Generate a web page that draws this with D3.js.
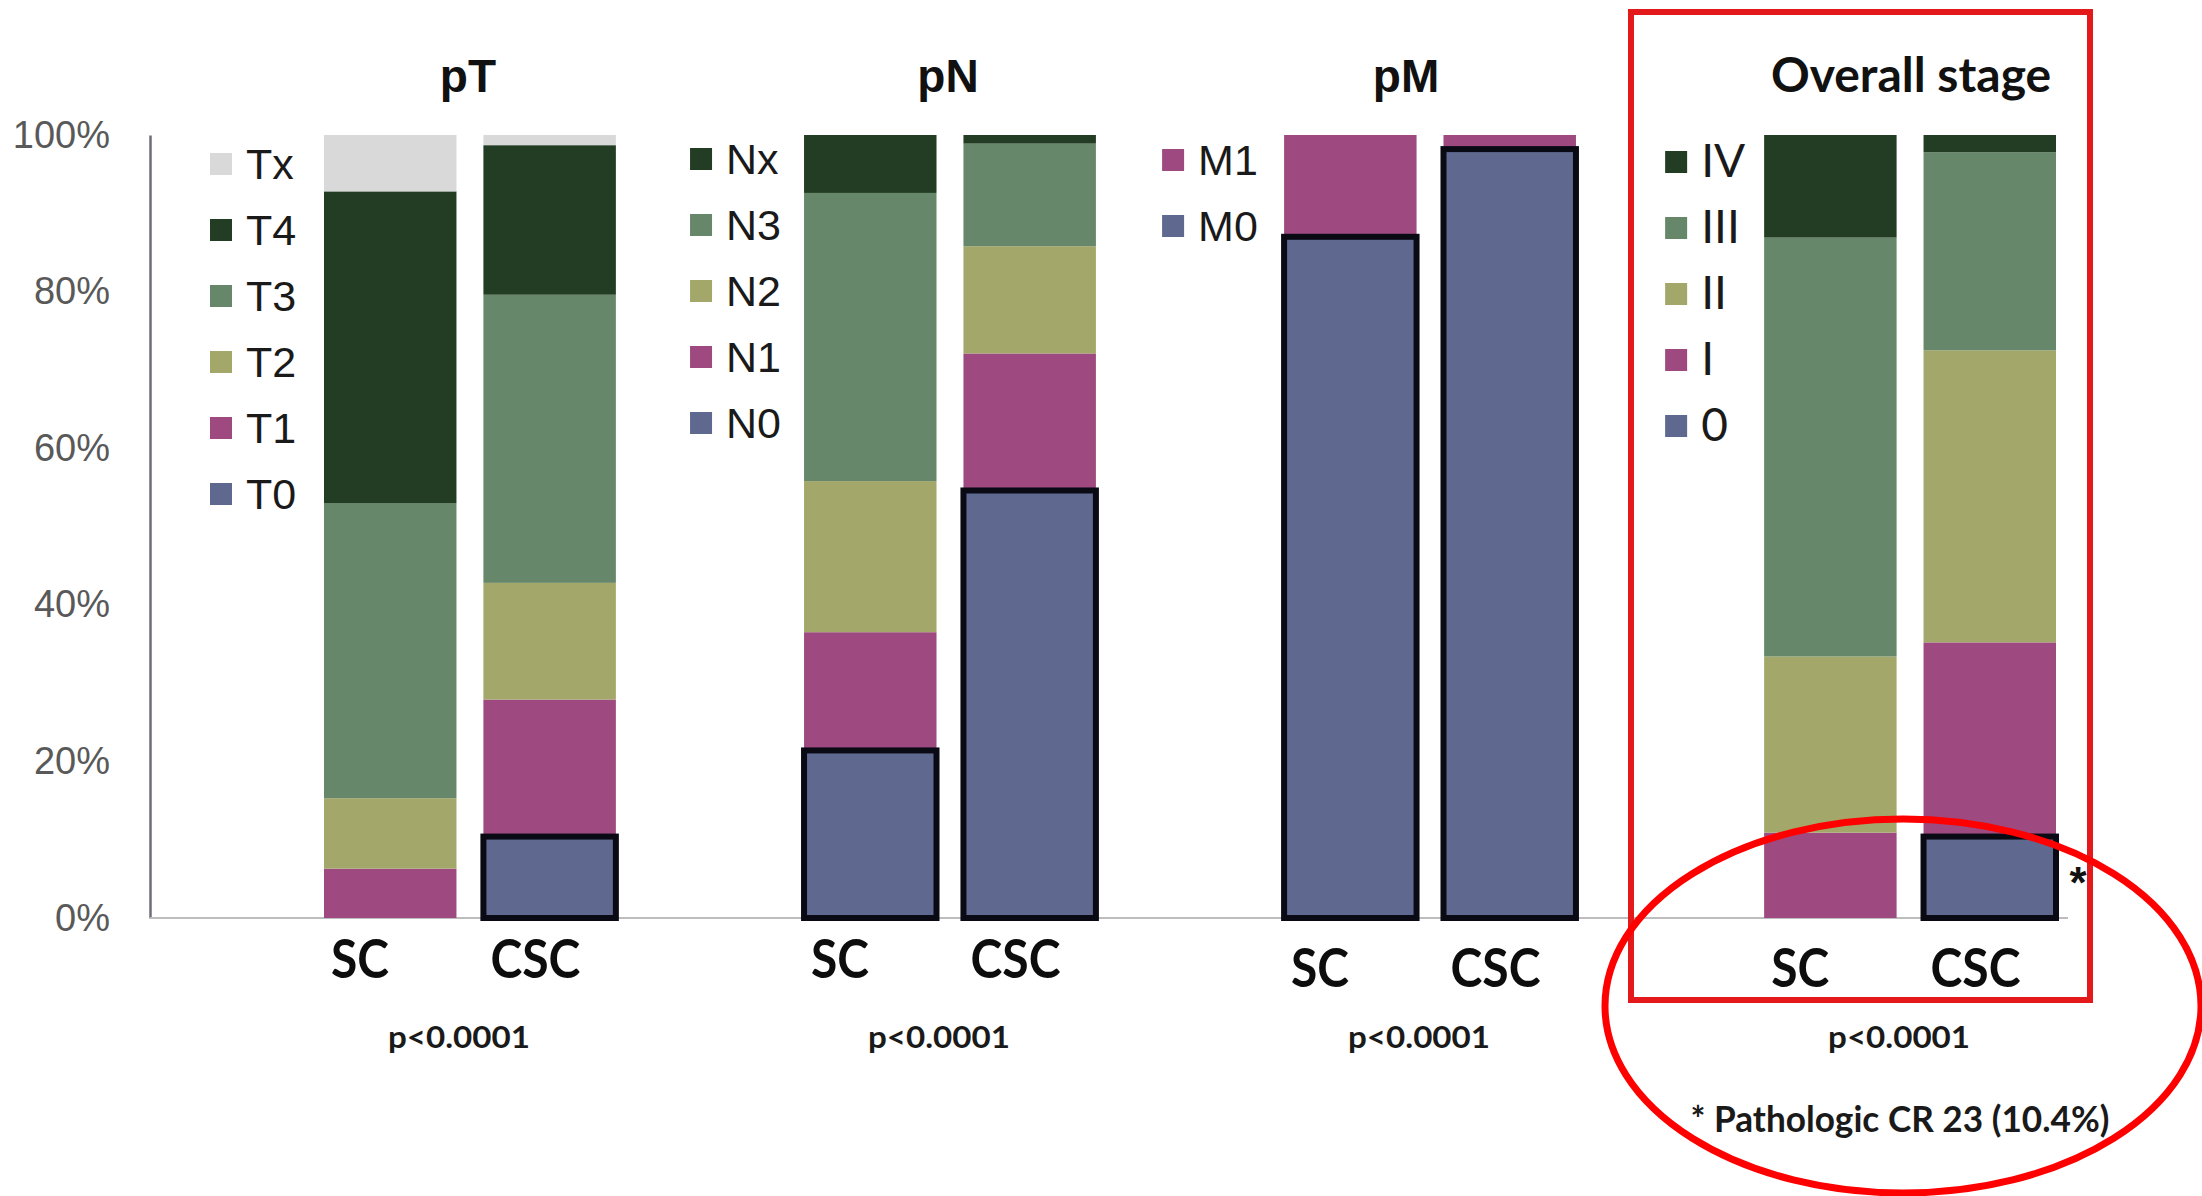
<!DOCTYPE html>
<html>
<head>
<meta charset="utf-8">
<script src="https://cdn.jsdelivr.net/npm/d3@7"></script>
<style>
  html, body { margin: 0; padding: 0; background: #ffffff; }
  svg { display: block; }
</style>
</head>
<body>
<svg id="chart" width="2202" height="1196"></svg>
<script>
// ---------------- DATA ----------------
const groups = ["pT", "pN", "pM", "Overall stage"];
const arms = ["SC", "CSC"];

const pTCategories = ["T0", "T1", "T2", "T3", "T4", "Tx"];
const pTSC  = [0, 6.3, 9.0, 37.7, 39.8, 7.2];
const pTCSC = [10.4, 17.5, 14.9, 36.8, 19.1, 1.3];

const pNCategories = ["N0", "N1", "N2", "N3", "Nx"];
const pNSC  = [21.4, 15.1, 19.3, 36.8, 7.4];
const pNCSC = [54.6, 17.5, 13.7, 13.1, 1.1];

const pMCategories = ["M0", "M1"];
const pMSC  = [87.0, 13.0];
const pMCSC = [98.2, 1.8];

const stageCategories = ["0", "I", "II", "III", "IV"];
const stageSC  = [0, 10.9, 22.5, 53.5, 13.1];
const stageCSC = [10.4, 24.8, 37.3, 25.3, 2.2];

const yTicks = [0, 20, 40, 60, 80, 100];
const pValues = ["p<0.0001", "p<0.0001", "p<0.0001", "p<0.0001"];
const footnote = "* Pathologic CR 23 (10.4%)";

// colour by category level (lowest first)
const palette = ["#5f698f", "#9e4a80", "#a3a86a", "#67876a", "#223d23", "#d9d9d9"];

// ---------------- LAYOUT ----------------
const svg = d3.select("#chart");
const ARIAL = "'Liberation Sans', Arial, sans-serif";
const CALIBRI = "Lato, 'Open Sans', sans-serif";

const y = d3.scaleLinear().domain([0, 100]).range([918, 135]);
const xGroup = d3.scaleBand().domain(groups).range([324, 2056]).paddingInner(0.392).paddingOuter(0);
const xArm = d3.scaleBand().domain(arms).range([0, xGroup.bandwidth()]).paddingInner(0.169);

const panels = [
  { group: "pT", cats: pTCategories, values: { SC: pTSC, CSC: pTCSC } },
  { group: "pN", cats: pNCategories, values: { SC: pNSC, CSC: pNCSC } },
  { group: "pM", cats: pMCategories, values: { SC: pMSC, CSC: pMCSC } },
  { group: "Overall stage", cats: stageCategories, values: { SC: stageSC, CSC: stageCSC } }
];

// per-panel cosmetic layout
const layout = {
  "pT":            { legDx: -114, legTop: 164, legFont: ARIAL, legSize: 43, titleDx: -2,  titleFont: ARIAL,   titleSize: 46, armY: 978 },
  "pN":            { legDx: -114, legTop: 159, legFont: ARIAL, legSize: 43, titleDx: -2,  titleFont: ARIAL,   titleSize: 46, armY: 978 },
  "pM":            { legDx: -122, legTop: 160, legFont: ARIAL, legSize: 43, titleDx: -24, titleFont: ARIAL,   titleSize: 46, armY: 987 },
  "Overall stage": { legDx: -99,  legTop: 162, legFont: CALIBRI, legSize: 46, titleDx: 1, titleFont: CALIBRI, titleSize: 48, armY: 987 }
};
const armWidth = { SC: 58, CSC: 90 };

// ---------------- Y AXIS ----------------
const yAxis = d3.axisLeft(y)
  .tickValues(yTicks)
  .tickFormat(d => d + "%")
  .tickSize(0)
  .tickSizeOuter(0)
  .tickPadding(40);

const gy = svg.append("g").attr("transform", "translate(150,0)").call(yAxis);
gy.select(".domain").attr("stroke", "#6e6e7a").attr("stroke-width", 2.5);
gy.selectAll("text")
  .attr("font-family", ARIAL)
  .attr("font-size", 38)
  .attr("fill", "#595959");

// baseline
svg.append("line")
  .attr("x1", 150).attr("x2", 2068)
  .attr("y1", y(0)).attr("y2", y(0))
  .attr("stroke", "#bdbdbd").attr("stroke-width", 2);

// ---------------- PANELS ----------------
panels.forEach((p, pi) => {
  const L = layout[p.group];
  const gx = xGroup(p.group);
  const rows = arms.map(a => {
    const r = { arm: a };
    p.cats.forEach((c, i) => { r[c] = p.values[a][i]; });
    return r;
  });
  const stacked = d3.stack().keys(p.cats)(rows);

  const g = svg.append("g");

  // upper layers first, then bordered lowest layer on top
  const order = stacked.slice(1).concat([stacked[0]]);
  order.forEach(layer => {
    const li = layer.index;
    g.selectAll(null)
      .data(layer.filter(d => d[1] - d[0] > 0))
      .join("rect")
      .attr("x", d => gx + xArm(d.data.arm))
      .attr("width", xArm.bandwidth())
      .attr("y", d => y(d[1]))
      .attr("height", d => y(d[0]) - y(d[1]))
      .attr("fill", palette[li])
      .attr("stroke", li === 0 ? "#0a0a14" : "none")
      .attr("stroke-width", li === 0 ? 6 : 0);
  });

  // title
  svg.append("text")
    .attr("x", gx + xGroup.bandwidth() / 2 + L.titleDx)
    .attr("y", 92)
    .attr("text-anchor", "middle")
    .attr("font-family", L.titleFont)
    .attr("font-weight", "bold")
    .attr("font-size", L.titleSize)
    .attr("fill", "#111")
    .text(p.group);

  // legend (top-most category first)
  const legCats = p.cats.map((c, i) => ({ c, i })).reverse();
  const lg = svg.append("g").attr("transform", `translate(${gx + L.legDx},${L.legTop})`);
  legCats.forEach((d, k) => {
    lg.append("rect")
      .attr("x", 0).attr("y", k * 66 - 11)
      .attr("width", 22).attr("height", 22)
      .attr("fill", palette[d.i]);
    lg.append("text")
      .attr("x", 36).attr("y", k * 66 + 15)
      .attr("font-family", L.legFont)
      .attr("font-size", L.legSize)
      .attr("fill", "#1a1a1a")
      .text(d.c);
  });

  // arm labels
  arms.forEach(a => {
    svg.append("text")
      .attr("x", gx + xArm(a) + 7)
      .attr("y", L.armY)
      .attr("font-family", CALIBRI)
      .attr("font-weight", "bold")
      .attr("font-size", 54)
      .attr("textLength", armWidth[a])
      .attr("lengthAdjust", "spacingAndGlyphs")
      .attr("fill", "#0d0d0d")
      .text(a);
  });

  // p value
  svg.append("text")
    .attr("x", gx + xGroup.bandwidth() / 2 - 11)
    .attr("y", 1048)
    .attr("text-anchor", "middle")
    .attr("font-family", CALIBRI)
    .attr("font-weight", "bold")
    .attr("font-size", 30)
    .attr("textLength", 142)
    .attr("lengthAdjust", "spacingAndGlyphs")
    .attr("fill", "#1a1a1a")
    .text(pValues[pi]);
});

// asterisk next to pathologic CR box
const lastG = groups[3];
svg.append("text")
  .attr("x", xGroup(lastG) + xArm("CSC") + xArm.bandwidth() + 22)
  .attr("y", 898)
  .attr("text-anchor", "middle")
  .attr("font-family", ARIAL)
  .attr("font-weight", "bold")
  .attr("font-size", 44)
  .attr("fill", "#111")
  .text("*");

// footnote
svg.append("text")
  .attr("x", 1900)
  .attr("y", 1132)
  .attr("text-anchor", "middle")
  .attr("font-family", CALIBRI)
  .attr("font-weight", "bold")
  .attr("font-size", 37)
  .attr("textLength", 419)
  .attr("lengthAdjust", "spacingAndGlyphs")
  .attr("fill", "#1a1a1a")
  .text(footnote);

// red highlight rectangle
svg.append("rect")
  .attr("x", 1631).attr("y", 12)
  .attr("width", 459).attr("height", 988)
  .attr("fill", "none")
  .attr("stroke", "#e3191c")
  .attr("stroke-width", 6);

// red ellipse
svg.append("ellipse")
  .attr("cx", 1903).attr("cy", 1006)
  .attr("rx", 298).attr("ry", 187)
  .attr("fill", "none")
  .attr("stroke", "#ff0000")
  .attr("stroke-width", 7);
</script>
</body>
</html>
